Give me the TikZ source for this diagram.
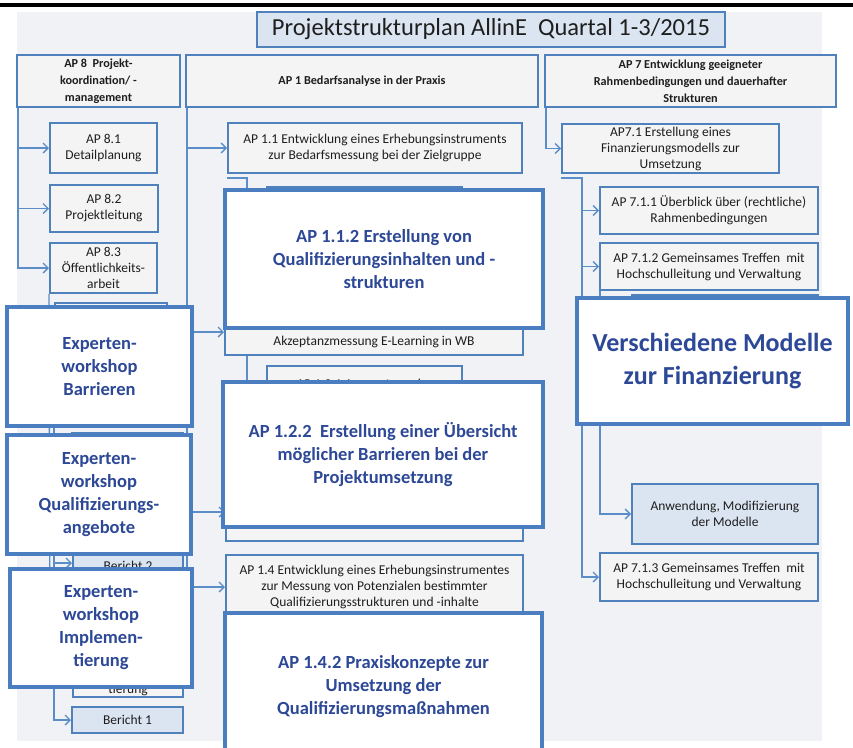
\documentclass[tikz,border=0pt]{standalone}
\usepackage{fontspec}
\setmainfont{Carlito}
\usetikzlibrary{arrows.meta}
\definecolor{bggray}{RGB}{240,242,245}
\definecolor{boxfill}{RGB}{244,244,245}
\definecolor{bordblue}{RGB}{79,129,189}
\definecolor{connblue}{RGB}{91,141,200}
\definecolor{lblue}{RGB}{219,229,241}
\definecolor{bigblue}{RGB}{74,126,192}
\definecolor{bigtxt}{RGB}{44,72,150}
\definecolor{txt}{RGB}{30,30,30}
\pgfdeclarelayer{bg}
\pgfdeclarelayer{conn}
\pgfdeclarelayer{top}
\pgfsetlayers{bg,conn,main,top}
\begin{document}
\begin{tikzpicture}[x=1pt,y=-1pt,
  box/.style={draw=bordblue, line width=2pt, fill=boxfill, inner sep=0pt, align=center, text=txt, font=\fontsize{13.5}{16}\selectfont},
  hbox/.style={box, font=\bfseries\fontsize{12.2}{17}\selectfont},
  lbbox/.style={box, fill=lblue},
  bbox/.style={draw=bigblue, line width=3.5pt, fill=white, inner sep=0pt, align=center, text=bigtxt, font=\bfseries\fontsize{18.5}{23}\selectfont},
  plain/.style={inner sep=0pt, align=center, text=txt, font=\fontsize{13.5}{16}\selectfont},
  conn/.style={draw=connblue, line width=1.3pt, -{Straight Barb[length=5pt,width=10pt]}},
  line/.style={draw=connblue, line width=1.3pt}]
\clip (0,0) rectangle (853,747);
\begin{pgfonlayer}{bg}
\fill[white] (0,0) rectangle (853,747);
\fill[bggray] (17,12) rectangle (822,741);
\fill[black] (0,3) rectangle (853,7);
\end{pgfonlayer}

% title and headers
\node[lbbox, minimum width=468pt, minimum height=35pt, font=\fontsize{24.5}{28}\selectfont] (title) at (491,29.5) {Projektstrukturplan AllinE\ \ Quartal 1-3/2015};
\node[hbox, minimum width=163pt, minimum height=52pt] (h8) at (98.5,81) {AP 8\ \ Projekt-\\koordination/ -\\management};
\node[hbox, minimum width=352pt, minimum height=52pt] (h1) at (362,81) {AP 1 Bedarfsanalyse in der Praxis};
\node[hbox, minimum width=291pt, minimum height=52pt] (h7) at (690.5,81) {AP 7 Entwicklung geeigneter\\Rahmenbedingungen und dauerhafter\\Strukturen};

% AP 8 column
\node[box, minimum width=107pt, minimum height=50pt] (a81) at (103.5,148) {AP 8.1\\Detailplanung};
\node[box, minimum width=108pt, minimum height=47pt] (a82) at (104,208.5) {AP 8.2\\Projektleitung};
\node[box, minimum width=107pt, minimum height=50pt] (a83) at (103.5,268) {AP 8.3\\Öffentlichkeits-\\arbeit};
\node[box, minimum width=112pt, minimum height=74pt] (h84) at (111,340) {};
\node[box, minimum width=111pt, minimum height=67pt] (hq) at (127.5,466.5) {};
\node[lbbox, minimum width=110pt, minimum height=26pt] (b2) at (128,566) {Bericht 2};
\node[box, minimum width=110pt, minimum height=97pt] (tb) at (128,648.5) {};
\node[plain] (tbt) at (128,690) {tierung};
\node[lbbox, minimum width=111pt, minimum height=26pt] (b1) at (127.5,720) {Bericht 1};

% AP 1 column
\node[box, minimum width=294pt, minimum height=50pt] (a11) at (375,148) {AP 1.1 Entwicklung eines Erhebungsinstruments\\zur Bedarfsmessung bei der Zielgruppe};
\node[box, minimum width=195pt, minimum height=73pt] (a111) at (364.5,223.5) {};
\node[box, minimum width=298pt, minimum height=46pt] (a12) at (374,332) {};
\node[plain] (a12t) at (374,342) {Akzeptanzmessung E-Learning in WB};
\node[box, minimum width=195pt, minimum height=74pt] (a121) at (364.5,403) {};
\node[plain] (a121t) at (364.5,385) {AP 1.2.1 Auswertung der};
\node[box, minimum width=297pt, minimum height=58pt] (a13) at (374.5,512) {};
\node[box, minimum width=297pt, minimum height=64pt] (a14) at (374.5,587) {AP 1.4 Entwicklung eines Erhebungsinstrumentes\\zur Messung von Potenzialen bestimmter\\Qualifizierungsstrukturen und -inhalte};

% AP 7 column
\node[box, minimum width=217pt, minimum height=49pt] (a71) at (670.5,148.5) {AP7.1 Erstellung eines\\Finanzierungsmodells zur\\Umsetzung};
\node[box, minimum width=218pt, minimum height=47pt] (a711) at (709,210.5) {AP 7.1.1 Überblick über (rechtliche)\\Rahmenbedingungen};
\node[box, minimum width=218pt, minimum height=47pt] (a712) at (709,266.5) {AP 7.1.2 Gemeinsames Treffen\ \ mit\\Hochschulleitung und Verwaltung};
\node[box, minimum width=186pt, minimum height=50pt] (a7121) at (725,320) {};
\node[lbbox, minimum width=186pt, minimum height=60pt] (anw) at (725,514) {Anwendung, Modifizierung\\der Modelle};
\node[box, minimum width=218pt, minimum height=48pt] (a713) at (709,577) {AP 7.1.3 Gemeinsames Treffen\ \ mit\\Hochschulleitung und Verwaltung};

% connectors
\begin{pgfonlayer}{conn}
\coordinate (t8) at ([xshift=2pt]h8.south west);
\draw[conn] (t8) |- (a81.west);
\draw[conn] (t8) |- (a82.west);
\draw[conn] (t8) |- (a83.west);
\coordinate (e83) at (50,650);
\draw[line] (a83.south west) -- (e83);
\draw[conn] (h84.south west) |- (hq.west);
\draw[conn] (h84.south west) |- ([yshift=3pt]b2.west);
\draw[conn] (h84.south west) |- (tb.west);
\draw[conn] (h84.south west) |- (b1.west);

\coordinate (t1) at ([xshift=2pt]h1.south west);
\draw[conn] (t1) |- (a11.west);
\draw[conn] (t1) |- (a12.west);
\draw[conn] (t1) |- (a13.west);
\draw[conn] (t1) |- (a14.west);
\coordinate (s11) at ([yshift=-4pt]a11.south west);
\coordinate (k11) at (247,200);
\draw[conn] (s11) -| (k11) |- (a111.west);
\coordinate (s12) at ([xshift=23pt]a12.south west);
\draw[conn] (s12) |- (a121.west);

\coordinate (t7) at ([xshift=2pt]h7.south west);
\draw[conn] (t7) |- (a71.west);
\coordinate (s71) at ([yshift=-4pt]a71.south west);
\coordinate (k71) at (582,200);
\draw[conn] (s71) -| (k71) |- (a711.west);
\draw[conn] (k71) |- (a712.west);
\draw[conn] (k71) |- (a713.west);
\coordinate (s712) at ([xshift=1pt]a712.south west);
\draw[conn] (s712) |- (a7121.west);
\draw[conn] (s712) |- (anw.west);
\end{pgfonlayer}

% overlay boxes
\begin{pgfonlayer}{top}
\node[bbox, minimum width=318pt, minimum height=138pt] (a112) at (384,259) {AP 1.1.2 Erstellung von\\Qualifizierungsinhalten und -\\strukturen};
\node[bbox, minimum width=320pt, minimum height=145pt] (a122) at (383,454.5) {AP 1.2.2\ \ Erstellung einer Übersicht\\möglicher Barrieren bei der\\Projektumsetzung};
\node[bbox, minimum width=317pt, minimum height=147pt] (a142) at (383.5,686.5) {AP 1.4.2 Praxiskonzepte zur\\Umsetzung der\\Qualifizierungsmaßnahmen};
\node[bbox, minimum width=271pt, minimum height=126pt, font=\bfseries\fontsize{26}{33}\selectfont] (vm) at (712.5,361) {Verschiedene Modelle\\zur Finanzierung};
\node[bbox, minimum width=185pt, minimum height=119pt] (ewb) at (99.5,366.5) {Experten-\\workshop\\Barrieren};
\node[bbox, minimum width=184pt, minimum height=119pt] (ewq) at (99,494.5) {Experten-\\workshop\\Qualifizierungs-\\angebote};
\node[bbox, minimum width=182pt, minimum height=118pt] (ewi) at (101,628) {Experten-\\workshop\\Implemen-\\tierung};
\end{pgfonlayer}
\end{tikzpicture}
\end{document}
